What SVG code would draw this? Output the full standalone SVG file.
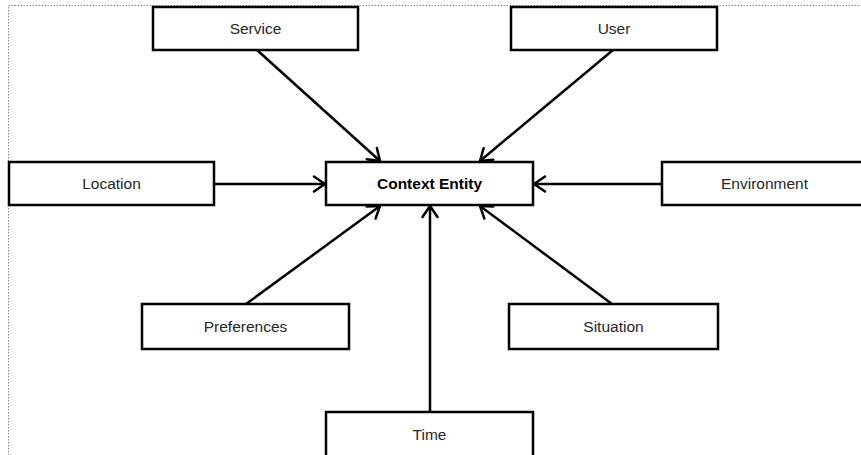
<svg xmlns="http://www.w3.org/2000/svg" width="861" height="455" viewBox="0 0 861 455">
  <style>
    .box { fill: #ffffff; stroke: #000000; stroke-width: 2.5; }
    .lbl { font-family: "Liberation Sans", Arial, sans-serif; font-size: 15.5px; fill: #262626; text-anchor: middle; }
    .bold { font-weight: bold; fill: #000000; }
    .edge { stroke: #000000; stroke-width: 2.5; fill: none; marker-end: url(#open); }
  </style>
  <defs>
    <marker id="open" markerUnits="userSpaceOnUse" markerWidth="16" markerHeight="20" viewBox="-13 -10 16 20" refX="0" refY="0" orient="auto">
      <path d="M-11,-7.5 L0,0 L-11,7.5" fill="none" stroke="#000000" stroke-width="2.5" stroke-linecap="round" stroke-linejoin="miter"/>
    </marker>
  </defs>
  <!-- dotted page frame -->
  <rect x="8.5" y="5.5" width="860" height="460" fill="#ffffff" stroke="#8c8c8c" stroke-width="1" stroke-dasharray="1.5,1.5"/>

  <g id="connectors">
    <line class="edge" x1="257" y1="50" x2="380" y2="161"/>
    <line class="edge" x1="613" y1="50" x2="480" y2="161"/>
    <line class="edge" x1="214" y1="184" x2="325" y2="184"/>
    <line class="edge" x1="662" y1="184" x2="534" y2="184"/>
    <line class="edge" x1="246" y1="304" x2="380" y2="206"/>
    <line class="edge" x1="612" y1="304" x2="480" y2="206"/>
    <line class="edge" x1="430" y1="412" x2="430" y2="206"/>
  </g>

  <g id="context-entity">
    <rect class="box" x="326" y="162" width="207" height="43"/>
    <text class="lbl bold" x="429.5" y="189">Context Entity</text>
  </g>
  <g id="service">
    <rect class="box" x="153" y="7" width="205" height="43"/>
    <text class="lbl" x="255.5" y="34">Service</text>
  </g>
  <g id="user">
    <rect class="box" x="511" y="7" width="206" height="43"/>
    <text class="lbl" x="614" y="34">User</text>
  </g>
  <g id="location">
    <rect class="box" x="9" y="162" width="205" height="43"/>
    <text class="lbl" x="111.5" y="189">Location</text>
  </g>
  <g id="environment">
    <rect class="box" x="662" y="162" width="205" height="43"/>
    <text class="lbl" x="764.5" y="189">Environment</text>
  </g>
  <g id="preferences">
    <rect class="box" x="142" y="304" width="207" height="45"/>
    <text class="lbl" x="245.5" y="332">Preferences</text>
  </g>
  <g id="situation">
    <rect class="box" x="509" y="304" width="209" height="45"/>
    <text class="lbl" x="613.5" y="332">Situation</text>
  </g>
  <g id="time">
    <rect class="box" x="326" y="412" width="207" height="60"/>
    <text class="lbl" x="429.5" y="440">Time</text>
  </g>
</svg>
